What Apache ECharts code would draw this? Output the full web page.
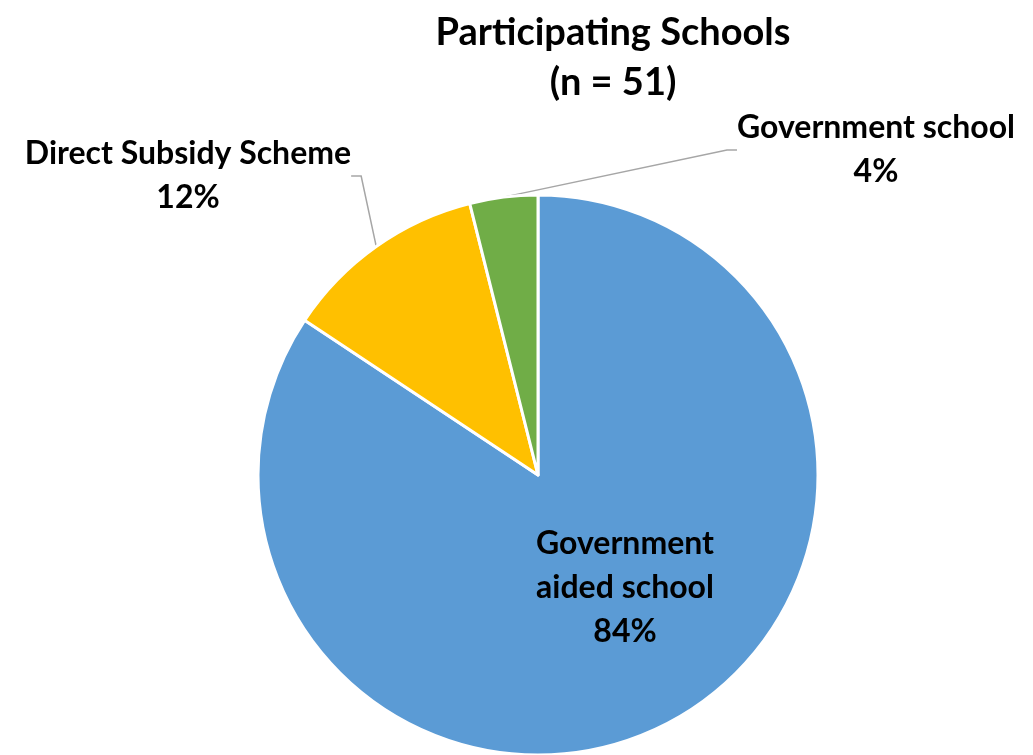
<!DOCTYPE html>
<html>
<head>
<meta charset="utf-8">
<script src="https://cdn.jsdelivr.net/npm/echarts@6/dist/echarts.min.js"></script>
<style>
html,body{margin:0;padding:0;background:#fff;}
#c{width:1033px;height:755px;}
</style>
</head>
<body>
<div id="c"></div>
<script>
var categories = ['Government aided school', 'Direct Subsidy Scheme', 'Government school'];
var schoolCounts = [43, 6, 2];
var sliceColors = ['#5B9BD5', '#FFC000', '#70AD47'];
var titleText = 'Participating Schools\n(n = 51)';

var FONT = 'Lato';
var chart = echarts.init(document.getElementById('c'));

var labelSpots = [
  {x: 625, y: 588},
  {x: 188, y: 176},
  {x: 876, y: 150}
];

var data = categories.map(function (name, i) {
  var item = {name: name, value: schoolCounts[i], itemStyle: {color: sliceColors[i]}};
  if (i === 0) {
    item.label = {position: 'inside'};
    item.labelLine = {show: false};
  }
  return item;
});

chart.setOption({
  animation: false,
  title: {
    text: titleText,
    left: 608,
    top: 3,
    textAlign: 'center',
    textStyle: {fontFamily: FONT, fontWeight: 'bold', fontSize: 38, lineHeight: 50, color: '#000'}
  },
  series: [{
    type: 'pie',
    center: [538, 475],
    radius: 280,
    startAngle: 90,
    clockwise: true,
    percentPrecision: 0,
    itemStyle: {borderColor: '#fff', borderWidth: 3},
    label: {
      show: true,
      formatter: function (p) {
        var nm = p.dataIndex === 0 ? p.name.replace(' aided', '\naided') : p.name;
        return nm + '\n' + p.percent + '%';
      },
      fontFamily: FONT,
      fontWeight: 'bold',
      fontSize: 32,
      lineHeight: 44,
      color: '#000',
      align: 'center',
      overflow: 'none',
      edgeDistance: 0
    },
    labelLine: {show: true, lineStyle: {color: '#A6A6A6', width: 1.5}, length: 20, length2: 10},
    labelLayout: function (params) {
      var s = labelSpots[params.dataIndex];
      return {x: s.x, y: s.y, align: 'center', verticalAlign: 'middle'};
    },
    emphasis: {disabled: true},
    data: data
  }]
});
</script>
</body>
</html>
